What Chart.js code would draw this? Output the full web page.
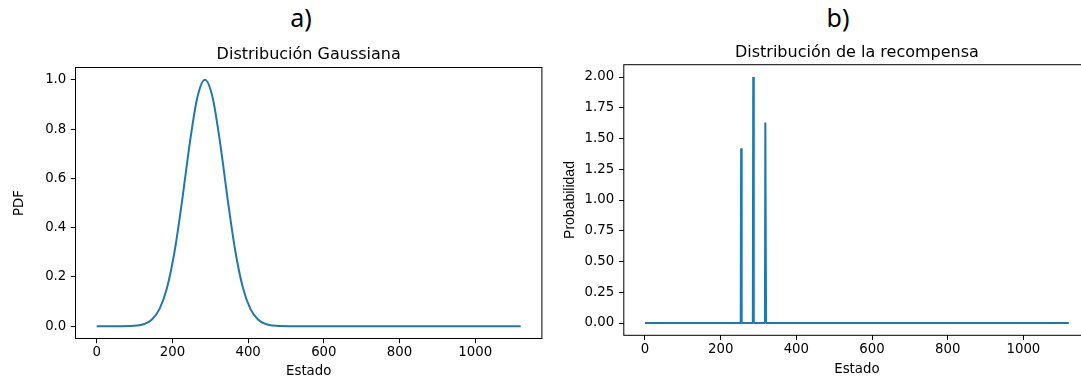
<!DOCTYPE html>
<html>
<head>
<meta charset="utf-8">
<script src="https://cdn.jsdelivr.net/npm/chart.js@4.4.1/dist/chart.umd.min.js"></script>
<style>
  html, body { margin: 0; padding: 0; background: #fff; width: 1081px; height: 377px; overflow: hidden; }
  .tag { position: absolute; top: 5px; width: 80px; text-align: center; font-family: "Noto Sans", sans-serif; font-size: 25px; line-height: 25px; color: #000; }
  canvas { position: absolute; top: 0; }
</style>
</head>
<body>
<div class="tag" style="left:261px">a)</div>
<div class="tag" style="left:798px">b)</div>
<canvas id="gauss" width="560" height="385" style="left:0;width:560px;height:385px"></canvas>
<canvas id="reward" width="550" height="385" style="left:560px;width:550px;height:385px"></canvas>
<script>
// ── data ────────────────────────────────────────────────────────────────────
const xTicks = [0, 200, 400, 600, 800, 1000];

// panel a) – Gaussian bump over the states
const gaussX = [0, 66, 86, 106, 126, 146, 166, 186, 206, 226, 246, 266, 286,
  306, 326, 346, 366, 386, 406, 426, 446, 466, 486, 506, 1120];
const gaussY = [0, 0.0001, 0.0006, 0.0025, 0.0088, 0.027, 0.070, 0.157, 0.306, 0.514, 0.744, 0.929, 1.0,
  0.929, 0.744, 0.514, 0.306, 0.157, 0.070, 0.027, 0.0088, 0.0025, 0.0006, 0.0001, 0];
const gaussTicksY = [0, 0.2, 0.4, 0.6, 0.8, 1.0];

// panel b) – three reward spikes
const rewardX = [0, 253, 254, 255, 256, 285, 286, 287, 288, 317, 318, 319, 320, 1120];
const rewardY = [0, 0, 1.42, 1.42, 0, 0, 2.0, 2.0, 0, 0, 1.63, 1.63, 0, 0];
const rewardTicksY = [0, 0.25, 0.5, 0.75, 1.0, 1.25, 1.5, 1.75, 2.0];

const BLUE = '#1f77b4';
const FONT = 'DejaVu Sans';

// full box round the plot area, like matplotlib spines
const frame = {
  id: 'frame',
  afterDatasetsDraw(chart) {
    const { ctx, chartArea: a } = chart;
    ctx.save();
    ctx.strokeStyle = '#000';
    ctx.lineWidth = 1;
    ctx.strokeRect(a.left, a.top, a.right - a.left, a.bottom - a.top);
    ctx.restore();
  },
};

function makePanel(canvas, cfg) {
  const points = cfg.xs.map((x, i) => ({ x, y: cfg.ys[i] }));
  return new Chart(canvas, {
    type: 'line',
    data: {
      datasets: [{
        data: points,
        borderColor: BLUE,
        borderWidth: 2,
        borderJoinStyle: 'bevel',
        pointRadius: 0,
        fill: false,
        cubicInterpolationMode: cfg.smooth ? 'monotone' : 'default',
        tension: 0,
      }],
    },
    options: {
      responsive: false,
      animation: false,
      devicePixelRatio: 1,
      events: [],
      layout: { padding: { left: 0, right: cfg.padRight, top: 0, bottom: 0 } },
      plugins: {
        legend: { display: false },
        tooltip: { enabled: false },
        title: {
          display: true,
          text: cfg.title,
          fullSize: false,
          color: '#000',
          font: { family: FONT, size: 16, weight: 'normal' },
          padding: { top: cfg.titleTop, bottom: cfg.titleBottom },
        },
      },
      scales: {
        x: {
          type: 'linear',
          min: -56,
          max: 1176,
          afterBuildTicks: (s) => { s.ticks = xTicks.map((v) => ({ value: v })); },
          afterFit: (s) => { s.height = cfg.xAxisH; },
          border: { display: false },
          grid: { display: true, drawOnChartArea: false, drawTicks: true, tickLength: 4.7, color: '#000', lineWidth: 1 },
          ticks: {
            color: '#000',
            padding: 1.3,
            font: { family: FONT, size: 13.3 },
            maxRotation: 0,
            callback: (v) => String(v),
          },
          title: {
            display: true,
            text: 'Estado',
            color: '#000',
            font: { family: FONT, size: 13.3 },
            padding: { top: 0, bottom: cfg.xTitlePad },
          },
        },
        y: {
          type: 'linear',
          min: cfg.yMin,
          max: cfg.yMax,
          afterBuildTicks: (s) => { s.ticks = cfg.yTicks.map((v) => ({ value: v })); },
          afterFit: (s) => { s.width = cfg.yAxisW; },
          border: { display: false },
          grid: { display: true, drawOnChartArea: false, drawTicks: true, tickLength: 4.7, color: '#000', lineWidth: 1 },
          ticks: {
            color: '#000',
            padding: cfg.yTickPad,
            font: { family: FONT, size: 13.3 },
            callback: (v) => v.toFixed(cfg.digits),
          },
          title: {
            display: true,
            text: cfg.yTitle,
            color: '#000',
            font: cfg.yTitleFont,
            padding: { top: cfg.yTitlePad, bottom: 0 },
          },
        },
      },
    },
    plugins: [frame],
  });
}

makePanel(document.getElementById('gauss'), {
  xs: gaussX, ys: gaussY, smooth: true,
  title: 'Distribución Gaussiana',
  titleTop: 45.6, titleBottom: 2.7,
  padRight: 18.1,
  xAxisH: 46.5, xTitlePad: 5,
  yAxisW: 75.5, yTickPad: 4.5,
  yMin: -0.05, yMax: 1.05, yTicks: gaussTicksY, digits: 1,
  yTitle: 'PDF', yTitleFont: { family: FONT, size: 13.3 }, yTitlePad: 11.5,
});

makePanel(document.getElementById('reward'), {
  xs: rewardX, ys: rewardY, smooth: false,
  title: 'Distribución de la recompensa',
  titleTop: 42.8, titleBottom: 2.7,
  padRight: 20,
  xAxisH: 49.7, xTitlePad: 7.7,
  yAxisW: 63.8, yTickPad: 5,
  yMin: -0.1, yMax: 2.1, yTicks: rewardTicksY, digits: 2,
  yTitle: 'Probabilidad', yTitleFont: { family: 'Liberation Sans', size: 14 }, yTitlePad: 2,
});
</script>
</body>
</html>
